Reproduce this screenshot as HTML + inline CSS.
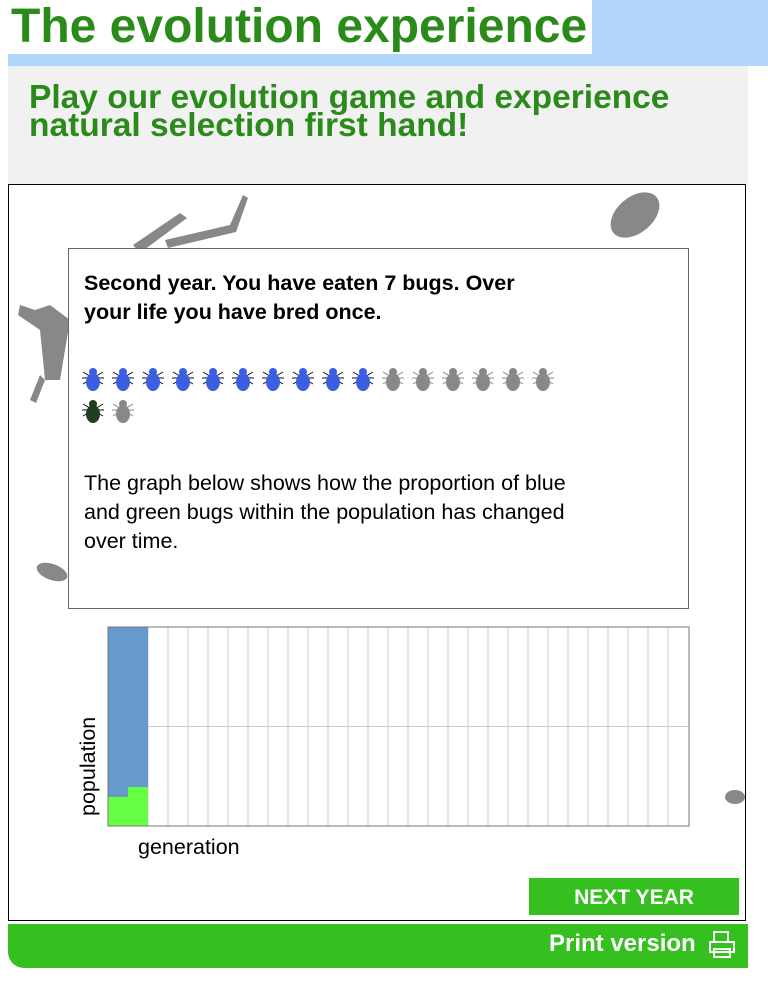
<!DOCTYPE html>
<html><head><meta charset="utf-8"><style>
body{margin:0;width:768px;height:986px;background:#fff;font-family:"Liberation Sans",Arial,sans-serif;position:relative;overflow:hidden}
.abs{position:absolute}
h1{position:absolute;left:8px;top:0;margin:0;width:584px;height:54px;background:#fff;color:#2a8a1a;font-size:48px;font-weight:bold;line-height:54px;padding-left:3px;box-sizing:border-box;white-space:nowrap}
.bug{position:absolute;width:24px;height:28px}
</style></head><body>
<div class="abs" style="left:0;top:0;width:768px;height:66px;background:#b2d5fb"></div>
<div class="abs" style="left:0;top:0;width:8px;height:66px;background:#fff"></div>
<h1>The evolution experience</h1>
<div class="abs" style="left:8px;top:66px;width:740px;height:118px;background:#f1f1f1"></div>
<div class="abs" style="left:29px;top:84px;color:#2a8a1a;font-size:33.5px;font-weight:bold;line-height:28px;white-space:nowrap">Play our evolution game and experience<br>natural selection first hand!</div>
<div class="abs" style="left:8px;top:184px;width:738px;height:737px;border:1px solid #000;box-sizing:border-box;background:#fff"></div>
<svg class="abs" style="left:0;top:180px" width="768" height="650">
<g fill="#888">
<polygon points="133,65 180,33 187,38 140,73"/>
<polygon points="165,60 230,45 243,15 248,18 236,52 168,68"/>
<polygon points="18,135 40,150 45,200 60,200 70,140 50,125 35,130 20,125"/>
<polygon points="40,195 45,200 36,223 30,220"/>
<ellipse cx="635" cy="35" rx="28" ry="18" transform="rotate(-40 635 35)"/>
<ellipse cx="52" cy="392" rx="16" ry="8" transform="rotate(20 52 392)"/>
<ellipse cx="735" cy="617" rx="10" ry="7"/>
</g></svg>
<div class="abs" style="left:68px;top:248px;width:621px;height:361px;background:#fff;border:1px solid #666;box-sizing:border-box"></div>
<div class="abs" style="left:84px;top:269px;font-size:21.5px;font-weight:bold;line-height:29px;color:#000;white-space:nowrap">Second year. You have eaten 7 bugs. Over<br>your life you have bred once.</div>
<div id="bugs"></div>
<div class="abs" style="left:84px;top:469px;font-size:21.5px;line-height:29px;color:#000;white-space:nowrap">The graph below shows how the proportion of blue<br>and green bugs within the population has changed<br>over time.</div>
<svg id="chart" class="abs" style="left:0;top:600px" width="768" height="270"></svg>
<div class="abs" style="left:529px;top:878px;width:210px;height:37px;background:#35c020;color:#fff;font-weight:bold;font-size:21px;text-align:center;line-height:40px">NEXT YEAR</div>
<div class="abs" style="left:8px;top:924px;width:740px;height:44px;background:#35c020;border-bottom-left-radius:16px"></div>
<div class="abs" style="left:549px;top:930px;color:#fff;font-weight:bold;font-size:24px">Print version</div>
<svg class="abs" style="left:708px;top:930px" width="30" height="30"><g fill="none" stroke="#fff" stroke-width="2"><rect x="6" y="2" width="14" height="10"/><rect x="2" y="12" width="24" height="10"/><rect x="6" y="19" width="16" height="8"/></g></svg>
<script>
const bugColors=["blue","blue","blue","blue","blue","blue","blue","blue","blue","blue","gray","gray","gray","gray","gray","gray","green","gray"];
const greenShare=[0.146,0.196];
const generations=29;
const fills={blue:"#3c5ee0",gray:"#888",green:"#1f3f1f"};
const bc=document.getElementById('bugs');
bugColors.forEach((c,i)=>{
 const row=i<16?0:1, col=i<16?i:i-16;
 const d=document.createElementNS('http://www.w3.org/2000/svg','svg');
 d.setAttribute('class','bug');
 
 
 d.setAttribute('width','24');d.setAttribute('height','28');
 d.style.left=(81+col*30)+'px';d.style.top=(364+row*32)+'px';
 const f=fills[c];
 d.innerHTML=`<g stroke="${c=='gray'?'#888':'#111'}" stroke-width="1"><line x1="2" y1="8" x2="22" y2="20"/><line x1="22" y1="8" x2="2" y2="20"/><line x1="1" y1="14" x2="23" y2="14"/></g><ellipse cx="12" cy="8" rx="4" ry="4" fill="${f}"/><ellipse cx="12" cy="18" rx="7" ry="9" fill="${f}"/>`;
 bc.appendChild(d);
});
const svg=document.getElementById('chart');const NS='http://www.w3.org/2000/svg';
const X0=108,X1=689,Y0=27,Y1=226,cw=20;
const x=g=>X0+g*cw, y=v=>Y1-v*(Y1-Y0);
function el(t,a,n){const e=document.createElementNS(NS,t);for(const k in a)e.setAttribute(k,a[k]);
 
 
 svg.appendChild(e);return e;}
for(let g=1;g<generations;g++)el('line',{x1:x(g),x2:x(g),y1:Y0,y2:Y1,stroke:'#ccc'},'grid-line-x');
el('line',{x1:X0,x2:X1,y1:y(0.5),y2:y(0.5),stroke:'#ccc'},'grid-line-mid');
greenShare.forEach((s,g)=>{
 el('rect',{x:x(g),y:Y0,width:cw,height:Y1-Y0,fill:'#6699cc'},'bar-blue-gen'+(g+1));
 el('rect',{x:x(g),y:y(s),width:cw,height:Y1-y(s),fill:'#66ff44'},'bar-green-gen'+(g+1));
});
el('rect',{x:X0,y:Y0,width:X1-X0,height:Y1-Y0,fill:'none',stroke:'#777'},'plot-frame');
const xt=el('text',{x:138,y:254,'font-size':21.5,'font-family':'Liberation Sans'},'x-axis-title');xt.textContent='generation';
const yt=el('text',{x:0,y:0,'font-size':21.5,'font-family':'Liberation Sans',transform:'translate(95,216) rotate(-90)'},'y-axis-title');yt.textContent='population';
</script>
</body></html>
